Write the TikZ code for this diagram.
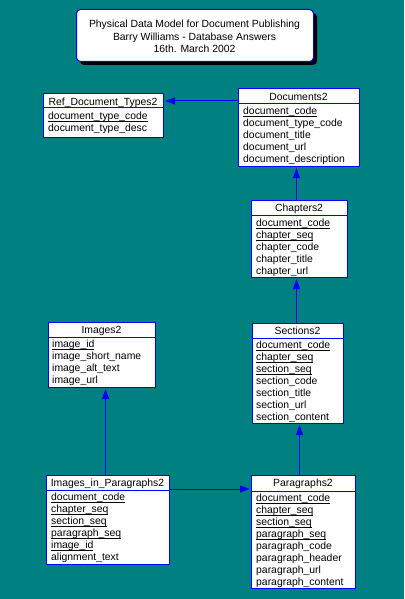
\documentclass[tikz,border=0pt]{standalone}
\usepackage{fontspec}
\setmainfont{Liberation Sans}
\usetikzlibrary{arrows.meta}
\definecolor{bgteal}{HTML}{008080}
\definecolor{erblue}{HTML}{0000FF}
\newcommand\keyf[1]{\setbox0\hbox{#1}\rlap{\rule[-2pt]{\wd0}{0.8pt}}\box0}
\tikzset{
  ent/.style={draw=erblue, fill=white, line width=1pt, inner sep=0pt, anchor=north west},
  div/.style={draw=erblue, line width=1pt},
  row/.style={anchor=base west, inner sep=0pt, font=\fontsize{10.4}{12}\selectfont},
  hdr/.style={anchor=base, inner sep=0pt, font=\fontsize{10.4}{12}\selectfont},
  rel/.style={draw=erblue, line width=1pt, -{Triangle[length=10pt,width=7pt]}, shorten >=1pt},
}
\begin{document}
\begin{tikzpicture}[x=1pt,y=-1pt]
\useasboundingbox[fill=bgteal] (0,0) rectangle (404,599);
% title
\fill[black, rounded corners=4pt] (80,13) rectangle (317,65);
\node[draw=erblue, fill=white, line width=1pt, rounded corners=4pt, anchor=north west, inner sep=0pt,
  minimum width=237pt, minimum height=52pt] (title) at (76,9) {};
\node[hdr] (t1) at (194.5,27.7) {Physical Data Model for Document Publishing};
\node[hdr] (t2) at (194.5,40.5) {Barry Williams - Database Answers};
\node[hdr] (t3) at (194.5,52.7) {16th. March 2002};
% Ref_Document_Types2
\node[ent, minimum width=120pt, minimum height=44pt] (ref) at (43,93) {};
\draw[div] (43,108) -- (163,108);
\node[hdr] (refh) at (103,105.7) {Ref\_Document\_Types2};
\node[row] (r1) at (48,119.7) {\keyf{document\_type\_code}};
\node[row] (r2) at (48,131.7) {document\_type\_desc};
% Documents2
\node[ent, minimum width=121pt, minimum height=78pt] (doc) at (238,88) {};
\draw[div] (238,104) -- (359,104);
\node[hdr] (doch) at (298.5,100.7) {Documents2};
\node[row] (d1) at (243,114.7) {\keyf{document\_code}};
\node[row] (d2) at (243,126.7) {document\_type\_code};
\node[row] (d3) at (243,138.7) {document\_title};
\node[row] (d4) at (243,150.7) {document\_url};
\node[row] (d5) at (243,162.7) {document\_description};
% Chapters2
\node[ent, minimum width=96pt, minimum height=77pt] (chap) at (251,200) {};
\draw[div] (251,215) -- (347,215);
\node[hdr] (chaph) at (299,211.7) {Chapters2};
\node[row] (c1) at (256,226.7) {\keyf{document\_code}};
\node[row] (c2) at (256,238.7) {\keyf{chapter\_seq}};
\node[row] (c3) at (256,250.7) {chapter\_code};
\node[row] (c4) at (256,262.7) {chapter\_title};
\node[row] (c5) at (256,274.7) {chapter\_url};
% Images2
\node[ent, minimum width=107pt, minimum height=65pt] (img) at (48,322) {};
\draw[div] (48,337) -- (155,337);
\node[hdr] (imgh) at (101.5,333.7) {Images2};
\node[row] (i1) at (52,347.7) {\keyf{image\_id}};
\node[row] (i2) at (52,359.7) {image\_short\_name};
\node[row] (i3) at (52,371.7) {image\_alt\_text};
\node[row] (i4) at (52,383.7) {image\_url};
% Sections2
\node[ent, minimum width=91pt, minimum height=100pt] (sec) at (252,323) {};
\draw[div] (252,338) -- (343,338);
\node[hdr] (sech) at (297.5,334.7) {Sections2};
\node[row] (s1) at (256,348.7) {\keyf{document\_code}};
\node[row] (s2) at (256,360.7) {\keyf{chapter\_seq}};
\node[row] (s3) at (256,372.7) {\keyf{section\_seq}};
\node[row] (s4) at (256,384.7) {section\_code};
\node[row] (s5) at (256,396.7) {section\_title};
\node[row] (s6) at (256,408.7) {section\_url};
\node[row] (s7) at (256,420.7) {section\_content};
% Images_in_Paragraphs2
\node[ent, minimum width=123pt, minimum height=89pt] (iip) at (46,475) {};
\draw[div] (46,490) -- (169,490);
\node[hdr] (iiph) at (107.5,486.7) {Images\_in\_Paragraphs2};
\node[row] (p1) at (51,500.7) {\keyf{document\_code}};
\node[row] (p2) at (51,512.7) {\keyf{chapter\_seq}};
\node[row] (p3) at (51,524.7) {\keyf{section\_seq}};
\node[row] (p4) at (51,536.7) {\keyf{paragraph\_seq}};
\node[row] (p5) at (51,548.7) {\keyf{image\_id}};
\node[row] (p6) at (51,560.7) {alignment\_text};
% Paragraphs2
\node[ent, minimum width=104pt, minimum height=113pt] (par) at (251,475) {};
\draw[div] (251,491) -- (355,491);
\node[hdr] (parh) at (303,486.7) {Paragraphs2};
\node[row] (q1) at (256,501.7) {\keyf{document\_code}};
\node[row] (q2) at (256,513.7) {\keyf{chapter\_seq}};
\node[row] (q3) at (256,525.7) {\keyf{section\_seq}};
\node[row] (q4) at (256,537.7) {\keyf{paragraph\_seq}};
\node[row] (q5) at (256,549.7) {paragraph\_code};
\node[row] (q6) at (256,561.7) {paragraph\_header};
\node[row] (q7) at (256,573.7) {paragraph\_url};
\node[row] (q8) at (256,585.7) {paragraph\_content};
% relationships
\draw[rel] (doc.west |- refh.base) ++(0,-4.7) coordinate (da) -- (da -| ref.east);
\draw[rel] ([xshift=-3pt]chap.north) -- ([xshift=-3pt]chap.north |- doc.south);
\draw[rel] (sec.north -| chap.north) ++(-3,0) coordinate (sa) -- (sa |- chap.south);
\draw[rel] (sec.south |- par.north) ++(1.5,0) coordinate (pa) -- (pa |- sec.south);
\draw[rel] (iip.north -| img.south) ++(3.5,0) coordinate (ia) -- (ia |- img.south);
\draw[rel] (iip.east |- iiph.base) ++(0,2.3) coordinate (ib) -- (ib -| par.west);
\end{tikzpicture}
\end{document}
